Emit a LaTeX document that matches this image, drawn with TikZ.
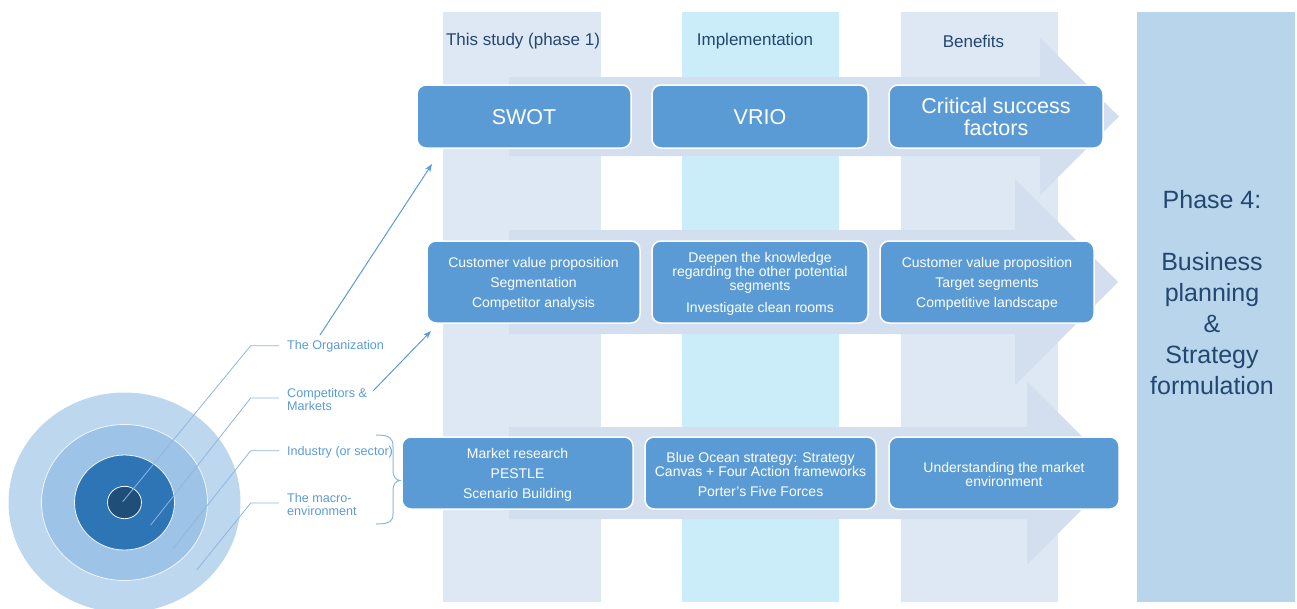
\documentclass[tikz,border=0pt]{standalone}
\usepackage{fontspec}
\setmainfont{Liberation Sans}
\usetikzlibrary{arrows.meta}

\definecolor{bandpale}{HTML}{DEE8F4}
\definecolor{bandcyan}{HTML}{CBEDF9}
\definecolor{phasefill}{HTML}{B8D5EC}
\definecolor{flowfill}{HTML}{D3DEEF}
\definecolor{boxblue}{HTML}{5B9BD5}
\definecolor{headtext}{HTML}{24476F}
\definecolor{ringA}{HTML}{BDD7EE}
\definecolor{ringB}{HTML}{9DC3E6}
\definecolor{ringC}{HTML}{2E75B6}
\definecolor{ringD}{HTML}{1F4E79}
\definecolor{leader}{HTML}{8EB6E0}
\definecolor{labeltext}{HTML}{5B9BD5}
\definecolor{pointer}{HTML}{5B9BD5}

\begin{document}
\begin{tikzpicture}[x=1pt,y=-1pt,
  flow/.style={fill=flowfill,draw=none},
  stepbox/.style={rounded corners=9pt,fill=boxblue,draw=white,line width=1.5pt,
    inner sep=0pt},
  steptext/.style={text=white,align=center,inner sep=0pt,
    font={\fontsize{14}{14}\selectfont}},
  bigtext/.style={steptext,font={\fontsize{21.5}{22.3}\selectfont}},
  header/.style={text=headtext,font={\fontsize{17}{20}\selectfont}},
  ringlabel/.style={anchor=west,inner sep=2pt,text=labeltext,align=left,
    font={\fontsize{12.6}{13}\selectfont}},
  leaderline/.style={draw=leader,line width=0.8pt},
  pointerline/.style={draw=pointer,line width=1pt,-{Stealth[length=8pt,width=6pt]}},
  ring/.style={draw=white!85!ringB,line width=0.8pt}
]
\useasboundingbox (0,0) rectangle (1297,608);

% phase columns
\fill[bandpale] (443,12) rectangle (601,602);
\fill[bandcyan] (682,12) rectangle (839,602);
\fill[bandpale] (901,12) rectangle (1058,602);
\fill[phasefill] (1137,12) rectangle (1295,602);

\node[header] (hstudy) at (523,41.5) {This study (phase 1)};
\node[header] (himpl) at (755,41.5) {Implementation};
\node[header] (hben) at (973.5,41.5) {Benefits};

\node[text=headtext,align=center,font={\fontsize{25}{31}\selectfont}] (phase)
  at (1212,293) {Phase 4:\\[31pt]Business\\planning\\\&\\Strategy\\formulation};

% flow arrows behind each row
\path[flow] (509,77) -- (1040,77) -- (1040,38) -- (1119,116.5) -- (1040,195)
  -- (1040,156) -- (509,156) -- cycle;
\path[flow] (509,230) -- (1015,230) -- (1015,179) -- (1118,282) -- (1015,385)
  -- (1015,334) -- (509,334) -- cycle;
\path[flow] (509,427) -- (1027,427) -- (1027,381.5) -- (1118.5,473) -- (1027,564.5)
  -- (1027,519) -- (509,519) -- cycle;

% row 1
\node[stepbox,minimum width=214pt,minimum height=63pt] (swot) at (524,116.5) {};
\node[stepbox,minimum width=216pt,minimum height=63pt] (vrio) at (760,116.5) {};
\node[stepbox,minimum width=214pt,minimum height=63pt] (csf) at (996,116.5) {};
\node[bigtext] (swott) at ([yshift=-1pt]swot.center) {SWOT};
\node[bigtext] (vriot) at ([yshift=-1pt]vrio.center) {VRIO};
\node[bigtext] (csft) at ([yshift=-0.5pt]csf.center) {Critical success\\factors};

% row 2
\node[stepbox,minimum width=213pt,minimum height=82pt] (cvp) at (533.5,282) {};
\node[stepbox,minimum width=216pt,minimum height=82pt] (deep) at (760,282) {};
\node[stepbox,minimum width=214pt,minimum height=82pt] (target) at (987,282) {};
\node[steptext] (cvpt) at ([yshift=-2pt]cvp.center)
  {Customer value proposition\\[6pt]Segmentation\\[6pt]Competitor analysis};
\node[steptext] (deept) at ([yshift=-2pt]deep.center)
  {Deepen the knowledge\\regarding the other potential\\segments\\[7.5pt]Investigate clean rooms};
\node[steptext] (targett) at ([yshift=-2pt]target.center)
  {Customer value proposition\\[6pt]Target segments\\[6pt]Competitive landscape};

% row 3
\node[stepbox,minimum width=231pt,minimum height=72pt] (market) at (517.5,473) {};
\node[stepbox,minimum width=231pt,minimum height=72pt] (ocean) at (760.5,473) {};
\node[stepbox,minimum width=230pt,minimum height=72pt] (envir) at (1004,473) {};
\node[steptext] (markett) at ([yshift=-1.5pt]market.center)
  {Market research\\[6pt]PESTLE\\[6pt]Scenario Building};
\node[steptext] (oceant) at ([yshift=-1.5pt]ocean.center)
  {Blue Ocean strategy: Strategy\\Canvas + Four Action frameworks\\[6pt]Porter's Five Forces};
\node[steptext] (envirt) at ([yshift=-1.5pt]envir.center)
  {Understanding the market\\environment};

% concentric rings
\fill[ringA] (124.5,502.5) ellipse [x radius=116pt,y radius=110pt];
\path[ring,fill=ringB] (124.5,502.5) ellipse [x radius=83pt,y radius=78pt];
\path[ring,fill=ringC] (124.5,502.5) ellipse [x radius=50pt,y radius=47.5pt];
\path[ring,fill=ringD] (124.5,502.5) ellipse [x radius=17pt,y radius=16.2pt];

% ring labels
\node[ringlabel] (org) at (285,346.5) {The Organization};
\node[ringlabel] (comp) at (285,399) {Competitors \&\\Markets};
\node[ringlabel] (ind) at (285,452) {Industry (or sector)};
\node[ringlabel] (macro) at (285,504) {The macro-\\environment};

% leader lines from each ring to its label
\coordinate (orgin) at (122.7,501.7);
\coordinate (compin) at (150.7,525);
\coordinate (indin) at (173.3,548.3);
\coordinate (macroin) at (196.7,570);
\draw[leaderline] (orgin) -- (250.7,345.7) -- ([xshift=-6pt]org.west |- 0,345.7);
\draw[leaderline] (compin) -- (250.7,398) -- ([xshift=-6pt]comp.west |- 0,398);
\draw[leaderline] (indin) -- (250.7,450.7) -- ([xshift=-6pt]ind.west |- 0,450.7);
\draw[leaderline] (macroin) -- (250.7,503) -- ([xshift=-6pt]macro.west |- 0,503);

% brace grouping industry and macro-environment
\draw[draw=leader,line width=1pt] (376,435) .. controls (390,435) and (393,438) .. (393,447)
  -- (393,471) .. controls (393,477) and (396,480) .. (400,480.5)
  .. controls (396,481) and (393,484) .. (393,490)
  -- (393,514) .. controls (393,521) and (390,524) .. (376,524);

% pointers to the study rows
\coordinate (orgfrom) at (320,335);
\coordinate (orgto) at (432,164);
\coordinate (compfrom) at (373,391);
\coordinate (compto) at (431,331);
\draw[pointerline] (orgfrom) -- (orgto);
\draw[pointerline] (compfrom) -- (compto);
\end{tikzpicture}
\end{document}
